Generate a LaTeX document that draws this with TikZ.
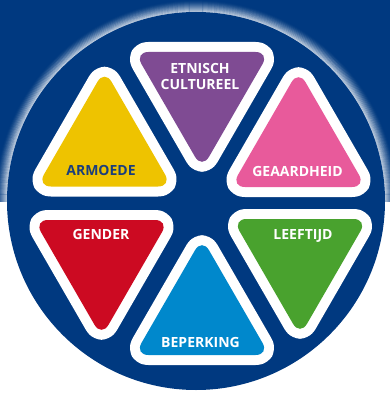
\documentclass[tikz,border=0pt]{standalone}
\usepackage{fontspec}
\setmainfont{Open Sans}
\definecolor{navy}{RGB}{0,57,128}
\definecolor{cyel}{RGB}{238,195,0}
\definecolor{cpur}{RGB}{127,75,147}
\definecolor{cpink}{RGB}{232,90,155}
\definecolor{cred}{RGB}{204,10,34}
\definecolor{cblue}{RGB}{0,136,204}
\definecolor{cgreen}{RGB}{73,162,46}
\definecolor{ctext}{RGB}{26,62,124}
\newcommand{\mytri}[4]{%
  \draw[white, line width=20pt, line join=round, rounded corners=14pt]
    ({#1-67.5},{#2}) -- ({#1+67.5},{#2}) -- ({#1},{#2-(#3)*116.9}) -- cycle;
  \fill[#4, rounded corners=14pt]
    ({#1-67.5},{#2}) -- ({#1+67.5},{#2}) -- ({#1},{#2-(#3)*116.9}) -- cycle;
}
\begin{document}
\begin{tikzpicture}[x=1pt,y=-1pt,
  lbl/.style={font=\bfseries\fontsize{14}{16}\selectfont, text=white, anchor=base, inner sep=0pt, align=center}]
\useasboundingbox (0,0) rectangle (390,393);
\fill[white] (0,0) rectangle (390,393);
\fill[navy] (0,0) rectangle (390,202);
\coordinate (c) at (196,201);
\begin{scope}
  \clip (0,0) rectangle (390,202);
  \foreach \i in {0,...,11} {
    \draw[white, opacity={0.7*(1-\i/12)^1.5}, line width=1.2pt] (c) circle[radius={189pt+\i pt}];
  }
\end{scope}
\fill[navy] (c) circle[radius=189pt];
% triangles
\mytri{104.5}{186.5}{1}{cyel}
\mytri{202}{52}{-1}{cpur}
\mytri{298.5}{187}{1}{cpink}
\mytri{101.5}{220}{-1}{cred}
\mytri{202}{355}{1}{cblue}
\mytri{300}{219}{-1}{cgreen}
% labels
\node[lbl, text=ctext] (armoede) at (101,175) {ARMOEDE};
\node[lbl] (etnisch) at (200,74) {ETNISCH};
\node[lbl] (cultureel) at (200,90) {CULTUREEL};
\node[lbl] (geaardheid) at (297.5,176) {GEAARDHEID};
\node[lbl] (gender) at (101,239) {GENDER};
\node[lbl] (leeftijd) at (303,239) {LEEFTIJD};
\node[lbl] (beperking) at (200.5,347) {BEPERKING};
\end{tikzpicture}
\end{document}
